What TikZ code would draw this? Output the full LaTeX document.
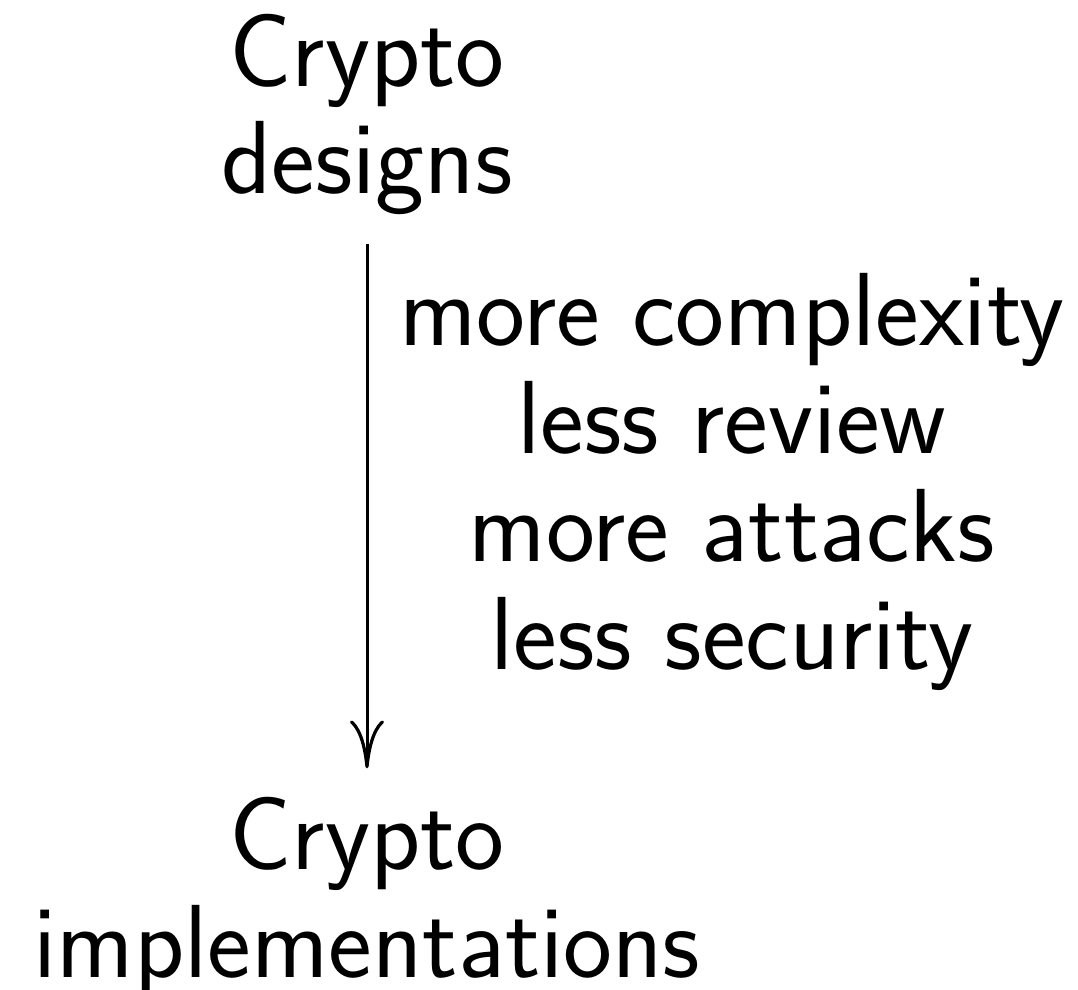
\documentclass[tikz,border=0pt]{standalone}
\usetikzlibrary{arrows.meta}
\begin{document}
\begin{tikzpicture}[x=1pt,y=1pt,
  txt/.style={font=\fontsize{52}{54}\selectfont\sffamily, align=center, inner sep=14pt, anchor=base},
  flow/.style={line width=1.5pt, -{Computer Modern Rightarrow[length=24pt,width=17pt,line width=1.6pt]}}]
\useasboundingbox (0,0) rectangle (539,-495);
\node[txt] (designs) at (183.5,-97) {Crypto\\designs};
\node[txt] (impl) at (183.5,-488.5) {Crypto\\implementations};
\node[txt] (effects) at (366,-334.5) {more complexity\\less review\\more attacks\\less security};
\draw[flow] (designs.south) -- (impl.north);
\end{tikzpicture}
\end{document}
